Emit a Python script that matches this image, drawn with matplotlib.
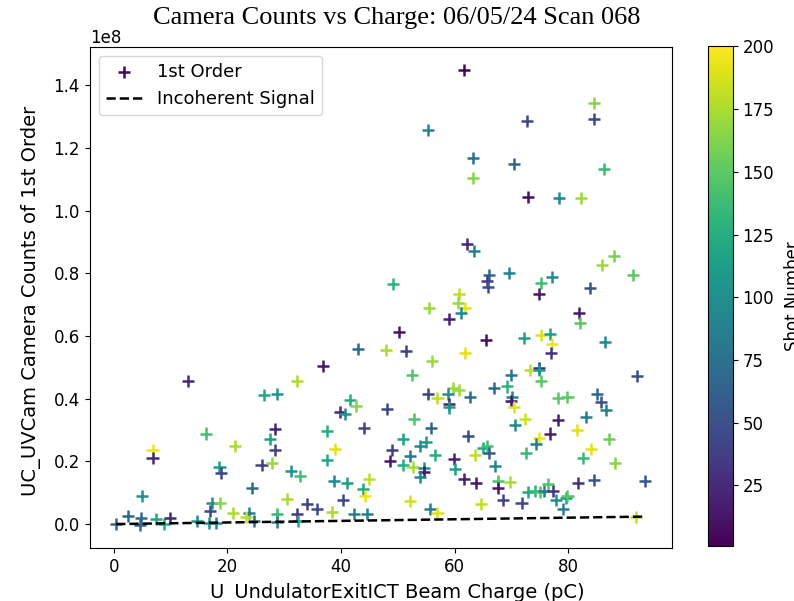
import numpy as np
import matplotlib
matplotlib.use('Agg')
import matplotlib.pyplot as plt

# charge (pC), 1st order counts (1e8), shot number
charge = [61.7, 84.6, 72.7, 84.6, 55.4, 63.2, 70.5, 86.4, 63.3, 72.9, 78.4, 82.3, 62.2, 63.4, 88.1, 85.9,
          91.5, 66.1, 69.6, 77.2, 65.7, 65.9, 75.2, 49.1, 60.8, 74.9, 83.9, 60.6, 61.8, 61.1, 59.0, 81.9,
          82.1, 65.5, 72.2, 75.3, 76.8, 77.1, 77.0, 86.5, 61.8, 73.3, 74.9, 74.8, 75.3, 70.0, 67.0, 69.3,
          92.2, 59.7, 60.8, 62.7, 70.1, 70.0, 70.4, 78.2, 79.9, 85.1, 85.8, 86.6, 72.4, 78.2, 83.2, 55.5,
          50.3, 43.0, 48.0, 51.4, 56.0, 36.9, 52.5, 32.2, 28.7, 55.3, 57.0, 58.8, 59.1, 59.1, 41.6, 42.6,
          39.8, 40.7, 48.1, 52.9, 13.0, 26.5, 6.8, 6.8, 16.2, 21.3, 18.6, 18.9, 4.9, 17.2, 18.7, 16.9,
          20.9, 2.5, 0.4, 4.8, 4.6, 7.4, 8.9, 9.9, 14.7, 16.8, 18.0, 28.4, 27.5, 28.4, 26.0, 27.8,
          24.3, 31.2, 32.7, 37.5, 38.9, 37.5, 44.0, 38.7, 41.1, 43.8, 45.0, 44.3, 30.5, 40.3, 34.0, 35.8,
          32.2, 38.5, 42.3, 44.5, 28.7, 32.4, 28.8, 23.8, 23.3, 24.6, 55.9, 51.0, 49.0, 48.7, 52.2, 54.0,
          54.9, 56.6, 50.9, 52.6, 54.6, 54.6, 53.9, 52.2, 55.7, 57.0, 62.3, 59.9, 60.1, 61.6, 63.7, 63.6,
          65.0, 65.7, 66.1, 67.1, 64.7, 67.6, 67.6, 69.8, 68.5, 70.7, 76.9, 74.8, 74.4, 72.6, 81.5, 84.1,
          82.6, 87.2, 88.3, 81.7, 84.6, 93.6, 72.9, 74.1, 75.1, 75.7, 76.4, 77.3, 77.8, 79.1, 79.6, 79.9,
          71.8, 92.0]
counts = [1.450, 1.343, 1.287, 1.293, 1.259, 1.167, 1.149, 1.133, 1.104, 1.043, 1.039, 1.039, 0.894, 0.872,
          0.854, 0.828, 0.794, 0.794, 0.801, 0.789, 0.776, 0.758, 0.768, 0.767, 0.733, 0.733, 0.752, 0.707,
          0.691, 0.675, 0.654, 0.673, 0.643, 0.587, 0.594, 0.603, 0.606, 0.574, 0.547, 0.581, 0.546, 0.492,
          0.497, 0.491, 0.456, 0.476, 0.434, 0.439, 0.471, 0.435, 0.428, 0.406, 0.406, 0.393, 0.375, 0.402,
          0.406, 0.414, 0.388, 0.364, 0.334, 0.332, 0.342, 0.688, 0.613, 0.558, 0.557, 0.552, 0.521, 0.504,
          0.475, 0.456, 0.414, 0.414, 0.402, 0.415, 0.382, 0.372, 0.396, 0.377, 0.359, 0.352, 0.367, 0.334,
          0.456, 0.411, 0.235, 0.212, 0.289, 0.250, 0.182, 0.164, 0.089, 0.068, 0.068, 0.042, 0.036, 0.026,
          0.000, 0.018, -0.004, 0.015, 0.000, 0.020, 0.010, 0.004, 0.004, 0.303, 0.273, 0.236, 0.188, 0.194,
          0.116, 0.169, 0.153, 0.297, 0.241, 0.204, 0.306, 0.137, 0.132, 0.111, 0.145, 0.089, 0.079, 0.076,
          0.063, 0.049, 0.033, 0.038, 0.033, 0.033, 0.033, 0.010, 0.006, 0.036, 0.022, 0.010, 0.306, 0.271,
          0.236, 0.201, 0.217, 0.249, 0.263, 0.220, 0.188, 0.183, 0.180, 0.167, 0.150, 0.073, 0.047, 0.036,
          0.281, 0.209, 0.175, 0.143, 0.132, 0.220, 0.244, 0.249, 0.228, 0.185, 0.063, 0.137, 0.116, 0.134,
          0.077, 0.316, 0.289, 0.276, 0.255, 0.226, 0.299, 0.239, 0.212, 0.273, 0.196, 0.132, 0.140, 0.137,
          0.103, 0.105, 0.103, 0.105, 0.127, 0.105, 0.076, 0.047, 0.082, 0.089, 0.066, 0.022]
shot = [5, 165, 45, 45, 95, 75, 65, 135, 165, 10, 95, 170, 25, 90, 160, 170,
        150, 70, 90, 100, 35, 50, 140, 130, 180, 15, 50, 170, 190, 95, 20, 15,
        150, 10, 115, 190, 115, 195, 30, 95, 190, 180, 25, 110, 150, 80, 70, 130,
        50, 170, 170, 70, 95, 15, 190, 150, 150, 70, 50, 90, 185, 20, 85, 170,
        12, 70, 175, 40, 170, 15, 145, 175, 105, 40, 180, 100, 20, 110, 125, 165,
        25, 100, 45, 145, 25, 120, 195, 25, 140, 175, 115, 45, 100, 100, 165, 45,
        175, 65, 65, 70, 65, 120, 125, 25, 100, 100, 90, 20, 115, 40, 40, 170,
        70, 105, 140, 125, 190, 120, 40, 95, 115, 120, 180, 195, 175, 45, 40, 45,
        35, 175, 85, 85, 135, 120, 90, 90, 180, 70, 65, 115, 40, 15, 80, 95,
        110, 125, 125, 175, 100, 15, 95, 185, 85, 190, 45, 20, 115, 20, 15, 180,
        120, 140, 60, 95, 180, 145, 15, 175, 40, 95, 20, 195, 85, 135, 190, 190,
        135, 155, 165, 30, 55, 55, 120, 130, 145, 85, 145, 35, 100, 85, 110, 145,
        45, 180]

incoherent_slope = 0.0235 / 92  # 1e8 counts per pC

charge = np.array(charge)
counts = np.array(counts) * 1e8

fig = plt.figure(figsize=(7.94, 6.01), dpi=100)
ax = fig.add_axes([0.113, 0.088, 0.733, 0.834])
cax = fig.add_axes([0.892, 0.092, 0.031, 0.831])

sc = ax.scatter(charge, counts, c=shot, cmap='viridis', vmin=1, vmax=200,
                marker='+', s=75, linewidths=1.8, label='1st Order')
xl = np.array([charge.min(), charge.max()])
ax.plot(xl, incoherent_slope * xl * 1e8, 'k--', lw=1.8, label='Incoherent Signal')

# labels are figure-level, centred on the whole figure
fig.supxlabel('U_UndulatorExitICT Beam Charge (pC)', fontsize=14, y=-0.004)
fig.supylabel('UC_UVCam Camera Counts of 1st Order', fontsize=14, x=0.027)
fig.suptitle('Camera Counts vs Charge: 06/05/24 Scan 068', family='Liberation Serif',
             fontsize=19, y=0.988)
ax.tick_params(labelsize=12)
ax.yaxis.get_offset_text().set_fontsize(12)
ax.legend(loc='upper left', fontsize=13)

cb = fig.colorbar(sc, cax=cax)
cb.set_label('Shot Number', fontsize=12, labelpad=7)
cb.ax.tick_params(labelsize=12)

plt.savefig('out.png', dpi=100)
